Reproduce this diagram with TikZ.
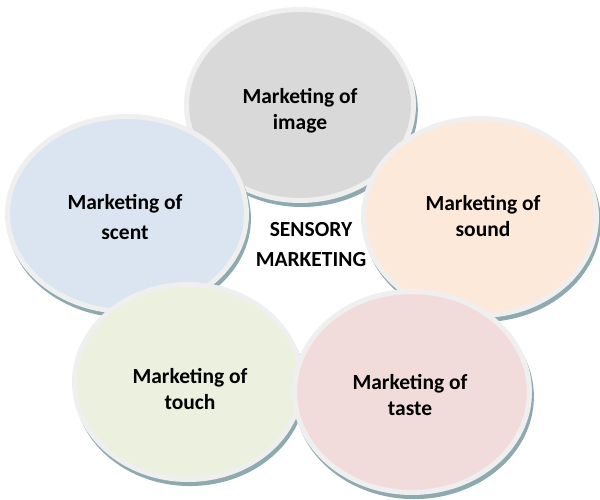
\documentclass[tikz,border=0pt]{standalone}
\usepackage{fontspec}
\setmainfont{Carlito}
\usetikzlibrary{shapes.geometric,shadows}
\definecolor{cImage}{HTML}{D9D9D9}
\definecolor{cScent}{HTML}{DBE5F1}
\definecolor{cSound}{HTML}{FDE9D9}
\definecolor{cTouch}{HTML}{EBF1DE}
\definecolor{cTaste}{HTML}{F2DCDB}
\definecolor{cRim}{HTML}{EFEFEF}
\definecolor{cShadow}{HTML}{8FA9B0}
\tikzset{
  bubble/.style={ellipse, draw=cRim, line width=5pt, inner sep=0pt,
    drop shadow={shadow xshift=2pt, shadow yshift=-4.5pt, shadow scale=1.02,
      fill=cShadow, opacity=1}},
  lbl/.style={font=\bfseries\fontsize{21.5}{26.5}\selectfont, align=center, inner sep=0pt, text=black}
}
\begin{document}
\begin{tikzpicture}[x=1pt,y=-1pt]
\useasboundingbox (0,0) rectangle (600,500);
\node[bubble, fill=cImage, minimum width=227pt, minimum height=191pt] (image) at (300,105) {};
\node[bubble, fill=cScent, minimum width=239pt, minimum height=195pt] (scent) at (127,214) {};
\node[bubble, fill=cSound, minimum width=233pt, minimum height=197pt] (sound) at (480,217) {};
\node[bubble, fill=cTouch, minimum width=227pt, minimum height=195pt] (touch) at (188,382) {};
\node[bubble, fill=cTaste, minimum width=235pt, minimum height=201pt] (taste) at (412,392) {};
\node[lbl] (timage) at (300,111) {Marketing of\\image};
\node[lbl] (tscent) at (125,217) {Marketing of\\[3.5pt]scent};
\node[lbl] (tsound) at (483,216) {Marketing of\\sound};
\node[lbl] (ttouch) at (190,389) {Marketing of\\touch};
\node[lbl] (ttaste) at (410,395) {Marketing of\\taste};
\node[lbl] (center) at (311,245) {SENSORY\\[3.5pt]MARKETING};
\end{tikzpicture}
\end{document}
